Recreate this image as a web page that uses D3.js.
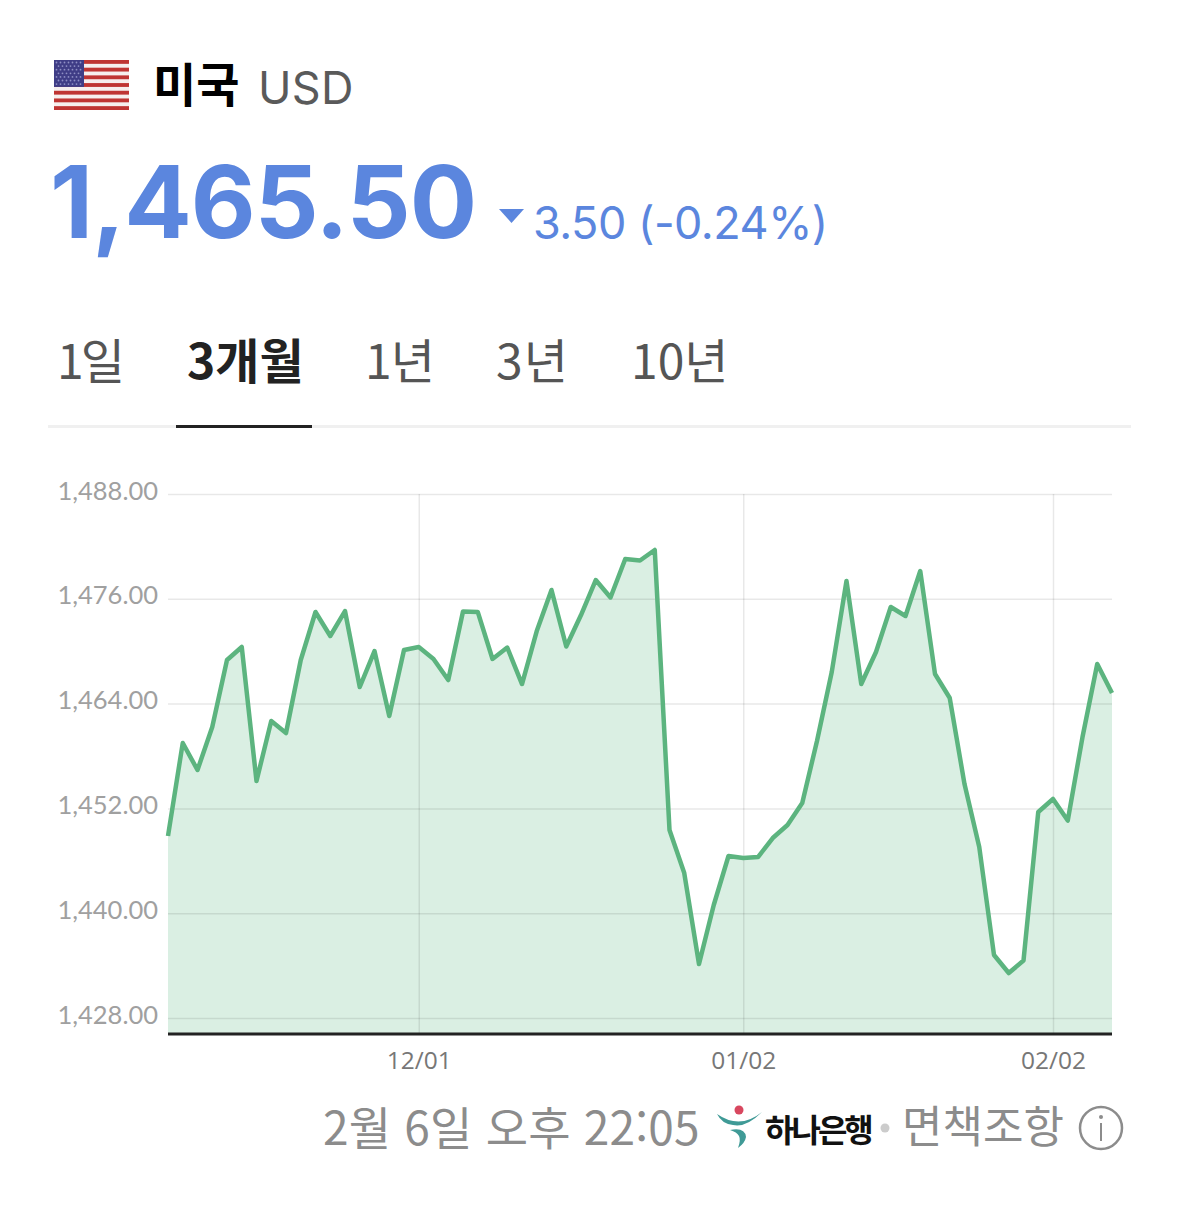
<!DOCTYPE html>
<html lang="ko"><head><meta charset="utf-8">
<script src="https://cdn.jsdelivr.net/npm/d3@7"></script>
<style>html,body{margin:0;padding:0;background:#fff}svg{display:block}
.ko{font-family:"Noto Sans CJK KR","Noto Sans",sans-serif}
.la{font-family:Inter,Roboto,sans-serif}</style>
</head><body><div id="c"></div>
<script>
const rates=[1448.84,1459.49,1456.40,1461.32,1468.99,1470.48,1455.14,1462.01,1460.63,1468.99,1474.49,1471.74,1474.60,1465.90,1470.02,1462.58,1470.14,1470.48,1469.11,1466.70,1474.55,1474.50,1469.11,1470.42,1466.24,1472.31,1477.01,1470.54,1474.14,1478.15,1476.15,1480.56,1480.39,1481.59,1449.53,1444.60,1434.18,1440.94,1446.55,1446.32,1446.43,1448.61,1450.10,1452.62,1459.72,1467.62,1478.04,1466.24,1469.91,1475.06,1474.03,1479.18,1467.39,1464.64,1454.79,1447.58,1435.21,1433.15,1434.58,1451.59,1453.08,1450.61,1460.17,1468.53,1465.21];
const yTicks=[1428,1440,1452,1464,1476,1488];
const xTickIndex=[17,39,60];
const xTickLabels=["12/01","01/02","02/02"];
const tabs=["1일","3개월","1년","3년","10년"];
const tabX=[57,187,365,496,631];
const tabSpacing=[-3,0,-1,1,0];

const W=1179,H=1218;
const svg=d3.select("#c").append("svg").attr("width",W).attr("height",H);
const x=d3.scaleLinear().domain([0,rates.length-1]).range([168,1112]);
const y=d3.scaleLinear().domain([1428,1488]).range([1018,494]);
const base=1034;

// flag
const fl=svg.append("g").attr("transform","translate(54,60)");
const fw=75,fh=50,sh=fh/13;
fl.append("rect").attr("width",fw).attr("height",fh).attr("fill","#f6efee");
d3.range(0,13,2).forEach(i=>fl.append("rect").attr("y",i*sh).attr("width",fw).attr("height",sh).attr("fill","#bf3533"));
fl.append("rect").attr("width",30).attr("height",sh*7).attr("fill","#3f3d86");
d3.range(7).forEach(r=>d3.range(r%2?6:7).forEach(c=>fl.append("circle").attr("cx",2.5+c*4+(r%2?2:0)).attr("cy",2.5+r*3.6).attr("r",.9).attr("fill","#8f8fc4")));

// header
svg.append("text").attr("class","ko").attr("x",153).attr("y",102).attr("font-size",47).attr("font-weight",700).attr("fill","#000").text("미국");
svg.append("text").attr("class","la").attr("x",258).attr("y",104).attr("font-size",45).attr("letter-spacing",.3).attr("fill","#5a5a5a").text("USD");
svg.append("text").attr("class","la").attr("x",50).attr("y",238).attr("font-size",100).attr("font-weight",700).attr("letter-spacing",-1.100).attr("fill","#5b86de").text("1,465.50");
svg.append("path").attr("d","M499 209h25l-12.500 14z").attr("fill","#5b86de");
svg.append("text").attr("class","la").attr("x",533).attr("y",239).attr("font-size",45).attr("letter-spacing",-.5).attr("fill","#5b86de").text("3.50 (-0.24%)");

// tabs
tabs.forEach((t,i)=>svg.append("text").attr("class","ko").attr("x",tabX[i]).attr("y",379)
  .attr("font-size",48).attr("letter-spacing",tabSpacing[i]).attr("font-weight",i==1?700:400).attr("fill",i==1?"#222":"#555").text(t));
svg.append("rect").attr("x",48).attr("y",425).attr("width",1083).attr("height",3).attr("fill","#f0f0f0");
svg.append("rect").attr("x",176).attr("y",425).attr("width",136).attr("height",3).attr("fill","#222");

// area
svg.append("path").datum(rates).attr("fill","#daefe3")
  .attr("d",d3.area().x((d,i)=>x(i)).y0(base).y1(d=>y(d)));

// y axis
const ya=svg.append("g").attr("transform","translate(168,0)")
  .call(d3.axisLeft(y).tickValues(yTicks).tickFormat(d3.format(",.2f")).tickSize(-944).tickPadding(10));
ya.select(".domain").remove();
ya.selectAll("line").attr("stroke","#000").attr("stroke-opacity",.09).attr("stroke-width",1.500);
ya.selectAll("text").attr("font-family","Lato,sans-serif").attr("font-size",25.500).attr("fill","#a0a0a0").attr("dy","5");

// x axis
const xa=svg.append("g").attr("transform",`translate(0,${base})`)
  .call(d3.axisBottom(x).tickValues(xTickIndex).tickFormat((d,i)=>xTickLabels[i]).tickSize(-540).tickPadding(18));
xa.select(".domain").remove();
xa.selectAll("line").attr("stroke","#000").attr("stroke-opacity",.09).attr("stroke-width",1.500);
xa.selectAll("text").attr("font-family","'Open Sans',sans-serif").attr("font-size",24.500).attr("fill","#777");

// line and baseline
svg.append("path").datum(rates).attr("fill","none").attr("stroke","#5cb47f").attr("stroke-width",4.500).attr("stroke-linejoin","round")
  .attr("d",d3.line().x((d,i)=>x(i)).y(d=>y(d)));
svg.append("line").attr("x1",168).attr("x2",1112).attr("y1",base).attr("y2",base).attr("stroke","#222").attr("stroke-width",3);

// footer
svg.append("text").attr("class","ko").attr("x",323).attr("y",1145).attr("font-size",46).attr("font-weight",400).attr("letter-spacing",.2).attr("fill","#8c8c8c").text("2월 6일 오후 22:05");
const lg=svg.append("g");
lg.append("circle").attr("cx",739).attr("cy",1110).attr("r",4.500).attr("fill","#d8475f");
lg.append("path").attr("d","M717 1114Q740 1130 762 1112Q746 1128 733 1125Q722 1124 717 1114Z").attr("fill","#3f9a96");
lg.append("path").attr("d","M730 1130Q745 1127 746 1137Q745 1143 738 1148Q741 1140 739 1136Q737 1132 730 1130Z").attr("fill","#3f9a96");
svg.append("text").attr("class","ko").attr("x",765).attr("y",1142).attr("font-size",32).attr("font-weight",700).attr("letter-spacing",-3).attr("fill","#111").text("하나은행");
svg.append("circle").attr("cx",885).attr("cy",1128).attr("r",4.500).attr("fill","#ccc");
svg.append("text").attr("class","ko").attr("x",902).attr("y",1143).attr("font-size",44).attr("font-weight",400).attr("fill","#8c8c8c").text("면책조항");
svg.append("circle").attr("cx",1101).attr("cy",1128).attr("r",21).attr("fill","none").attr("stroke","#8c8c8c").attr("stroke-width",2.500);
svg.append("circle").attr("cx",1101).attr("cy",1117).attr("r",2).attr("fill","#8c8c8c");
svg.append("rect").attr("x",1100).attr("y",1123).attr("width",2).attr("height",18).attr("fill","#8c8c8c");
</script></body></html>
